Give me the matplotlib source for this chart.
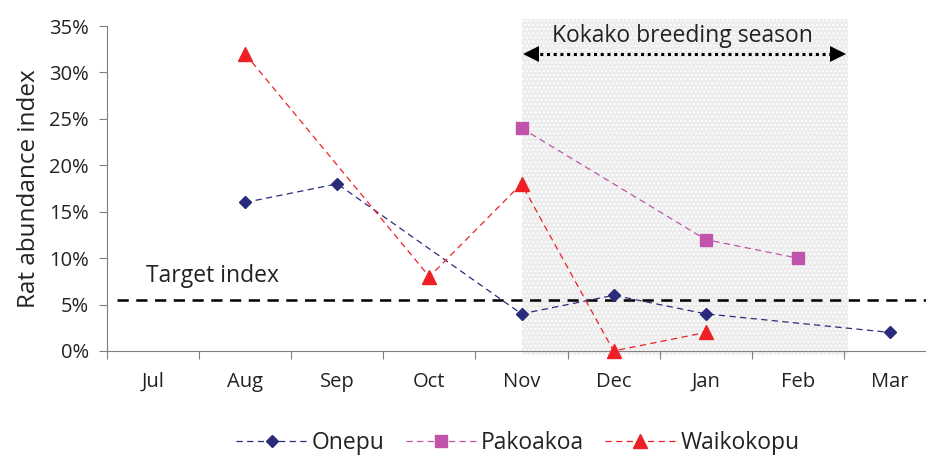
import matplotlib.pyplot as plt
from matplotlib.ticker import PercentFormatter, FixedLocator

plt.rcParams['font.family'] = ['Open Sans', 'DejaVu Sans']

# Data
months = ['Jul', 'Aug', 'Sep', 'Oct', 'Nov', 'Dec', 'Jan', 'Feb', 'Mar']

onepu_months = ['Aug', 'Sep', 'Nov', 'Dec', 'Jan', 'Mar']
onepu_values = [0.16, 0.18, 0.04, 0.06, 0.04, 0.02]

pakoakoa_months = ['Nov', 'Jan', 'Feb']
pakoakoa_values = [0.24, 0.12, 0.10]

waikokopu_months = ['Aug', 'Oct', 'Nov', 'Dec', 'Jan']
waikokopu_values = [0.32, 0.08, 0.18, 0.0, 0.02]

target_index = 0.055

idx = {m: i for i, m in enumerate(months)}
dash = (0, (5, 3.5))

fig = plt.figure(figsize=(9.26, 4.55), dpi=100)
ax = fig.add_axes([107 / 926, 1 - 351 / 455, 829 / 926, 325 / 455])

# breeding season shading (Nov -> mid Feb/Mar)
ax.fill_between([idx['Nov'], 7.54], [-0.004, -0.004], [0.358, 0.358],
                facecolor='#ececec', edgecolor='white', hatch='....',
                linewidth=0, zorder=0, clip_on=False)

ax.plot([idx[m] for m in onepu_months], onepu_values, ls=dash, lw=0.9,
        color='#2b2b7c', marker='D', ms=6.5, label='Onepu', zorder=3)
ax.plot([idx[m] for m in pakoakoa_months], pakoakoa_values, ls=dash, lw=0.9,
        color='#c054aa', marker='s', ms=8, label='Pakoakoa', zorder=3)
ax.plot([idx[m] for m in waikokopu_months], waikokopu_values, ls=dash, lw=0.9,
        color='#ee2026', marker='^', ms=10, label='Waikokopu', zorder=3,
        clip_on=False)

# target line
ax.plot([-0.39, 8.6], [target_index, target_index], ls=(0, (4.5, 3)),
        color='black', lw=1.8, zorder=2, clip_on=False)
ax.text(0.65, 0.081, 'Target index', fontsize=16.5, ha='center', va='center',
        color='#222222')

# breeding season arrow: dotted shaft with solid heads
ax.plot([4.12, 7.42], [0.32, 0.32], ls=(0, (1, 1.2)), lw=2.2, color='black',
        zorder=2)
ax.plot([4.1], [0.32], marker='<', ms=11, color='black', mew=0, zorder=2)
ax.plot([7.44], [0.32], marker='>', ms=11, color='black', mew=0, zorder=2)
ax.text(5.75, 0.339, 'Kokako breeding season', fontsize=16.5, ha='center',
        va='center', color='#222222')

ax.set_xlim(-0.5, 8.5)
ax.set_ylim(0, 0.35)
ax.set_yticks([i * 0.05 for i in range(8)])
ax.yaxis.set_major_formatter(PercentFormatter(1.0, decimals=0))
ax.xaxis.set_major_locator(FixedLocator([i - 0.5 for i in range(10)]))
ax.xaxis.set_major_formatter(plt.NullFormatter())
ax.set_xticks(range(len(months)), minor=True)
ax.set_xticklabels(months, minor=True)

ax.tick_params(axis='x', which='major', length=6, color='#808080')
ax.tick_params(axis='x', which='minor', length=0, pad=15, labelsize=14.5,
               labelcolor='#222222')
ax.tick_params(axis='y', length=6, color='#808080', pad=7, labelsize=14.5,
               labelcolor='#222222')

for s in ['top', 'right']:
    ax.spines[s].set_visible(False)
for s in ['left', 'bottom']:
    ax.spines[s].set_color('#808080')

ax.set_ylabel('Rat abundance index', fontsize=17.5, color='#222222',
              labelpad=6)

leg = fig.legend(loc='center', bbox_to_anchor=(518 / 926, 1 - 443 / 455),
                 ncol=3, frameon=False, fontsize=16.5, handlelength=3.1,
                 handletextpad=0.2, columnspacing=0.9)
for t in leg.get_texts():
    t.set_color('#222222')

fig.savefig('out.png', dpi=100)
